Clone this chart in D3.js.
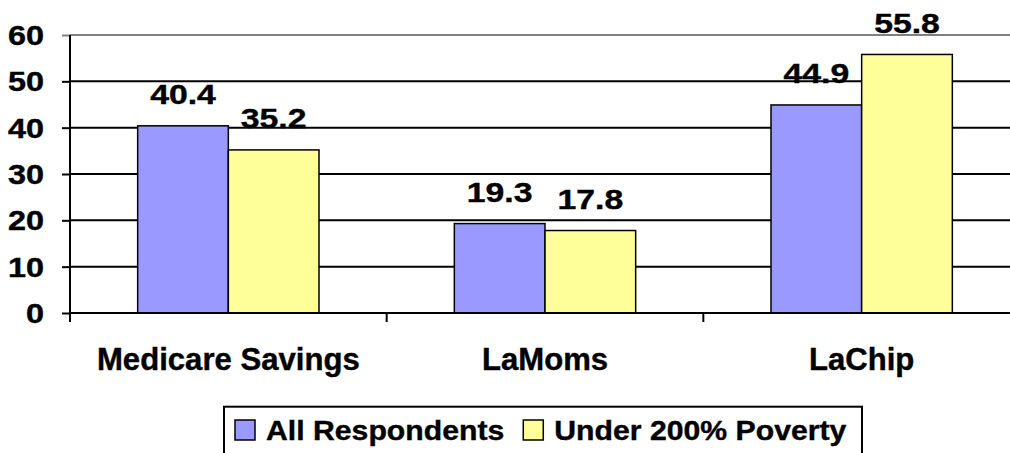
<!DOCTYPE html>
<html>
<head>
<meta charset="utf-8">
<script src="https://cdn.jsdelivr.net/npm/d3@7"></script>
<style>
  html, body { margin: 0; padding: 0; background: #fff; }
  svg { display: block; }
  text { font-family: "Liberation Sans", Arial, Helvetica, sans-serif; font-weight: bold; fill: #000; stroke: #000; stroke-width: 0.4px; }
</style>
</head>
<body>
<svg id="chart" width="1010" height="453"></svg>
<script>
const categories = ["Medicare Savings", "LaMoms", "LaChip"];
const seriesNames = ["All Respondents", "Under 200% Poverty"];
const allRespondents = [40.4, 19.3, 44.9];
const under200Poverty = [35.2, 17.8, 55.8];
const yTicks = [0, 10, 20, 30, 40, 50, 60];
const seriesColors = ["#9999FF", "#FFFF99"];

const seriesValues = [allRespondents, under200Poverty];
const rows = categories.map((c, i) => ({
  category: c,
  values: seriesNames.map((s, j) => ({ series: s, value: seriesValues[j][i], idx: j }))
}));

const svg = d3.select("#chart");
const plot = { left: 70, right: 1020, top: 35, bottom: 313 };

const y = d3.scaleLinear().domain([0, 60]).range([plot.bottom, plot.top]);
const x0 = d3.scaleBand().domain(categories).range([plot.left, plot.right])
  .paddingInner(0.4274).paddingOuter(0.2137);
const x1 = d3.scaleBand().domain(seriesNames).range([0, x0.bandwidth()]).padding(0);
const color = d3.scaleOrdinal().domain(seriesNames).range(seriesColors);

// gridlines
svg.append("g").selectAll("line").data(yTicks.filter(t => t > 0)).join("line")
  .attr("x1", plot.left).attr("x2", plot.right)
  .attr("y1", d => y(d)).attr("y2", d => y(d))
  .attr("stroke", d => d === 60 ? "#808080" : "#000")
  .attr("stroke-width", 2);

// bars
const groups = svg.append("g").selectAll("g").data(rows).join("g")
  .attr("transform", d => `translate(${x0(d.category)},0)`);
groups.selectAll("rect").data(d => d.values).join("rect")
  .attr("x", d => x1(d.series))
  .attr("y", d => y(d.value))
  .attr("width", x1.bandwidth())
  .attr("height", d => y(0) - y(d.value))
  .attr("fill", d => color(d.series))
  .attr("stroke", "#000")
  .attr("stroke-width", 1.5);

// y axis
const yAxis = d3.axisLeft(y).tickValues(yTicks).tickSize(8).tickPadding(18);
const yg = svg.append("g").attr("transform", `translate(${plot.left},0)`).call(yAxis);
yg.select(".domain").remove();
yg.selectAll(".tick line").attr("stroke", d => d === 60 ? "#808080" : "#000").attr("stroke-width", 2);
yg.selectAll(".tick text").remove();
yg.selectAll(".tick").append("text")
  .attr("text-anchor", "end")
  .attr("transform", "translate(-26,9.5) scale(1.2,1)")
  .style("font-size", "27px")
  .text(d => d);
svg.append("line")
  .attr("x1", plot.left).attr("x2", plot.left)
  .attr("y1", plot.top).attr("y2", plot.bottom + 9)
  .attr("stroke", "#000").attr("stroke-width", 2);

// x axis
svg.append("line")
  .attr("x1", plot.left).attr("x2", plot.right)
  .attr("y1", plot.bottom).attr("y2", plot.bottom)
  .attr("stroke", "#000").attr("stroke-width", 2);
const boundaries = categories.map(c => x0(c) - x0.step() * x0.paddingOuter()).concat([plot.right]);
svg.append("g").selectAll("line").data(boundaries).join("line")
  .attr("x1", d => d).attr("x2", d => d)
  .attr("y1", plot.bottom).attr("y2", plot.bottom + 9)
  .attr("stroke", "#000").attr("stroke-width", 2);

// category labels
svg.append("g").selectAll("text").data(categories).join("text")
  .attr("text-anchor", "middle")
  .attr("transform", d => `translate(${x0(d) + x0.bandwidth() / 2},370) scale(1.02,1)`)
  .style("font-size", "30.5px")
  .text(d => d);

// value labels
groups.selectAll("text.val").data(d => d.values).join("text")
  .attr("class", "val")
  .attr("text-anchor", "middle")
  .attr("transform", d => `translate(${x1(d.series) + x1.bandwidth() / 2},${y(d.value) - 21.5}) scale(1.25,1)`)
  .style("font-size", "27px")
  .text(d => d.value.toFixed(1));

// legend
const legend = svg.append("g");
legend.append("rect")
  .attr("x", 224).attr("y", 406.7).attr("width", 638).attr("height", 80)
  .attr("fill", "#fff").attr("stroke", "#000").attr("stroke-width", 2);
let cursor = 235;
seriesNames.forEach((s, i) => {
  legend.append("rect")
    .attr("x", cursor).attr("y", 420).attr("width", 20).attr("height", 20)
    .attr("fill", color(s)).attr("stroke", "#000").attr("stroke-width", 1.5);
  const tx = cursor + 31;
  const t = legend.append("text")
    .attr("transform", `translate(${tx},440) scale(1.06,1)`)
    .style("font-size", "28.5px")
    .text(s);
  const w = t.node().getComputedTextLength() * 1.06;
  cursor = tx + w + 19;
});
</script>
</body>
</html>
